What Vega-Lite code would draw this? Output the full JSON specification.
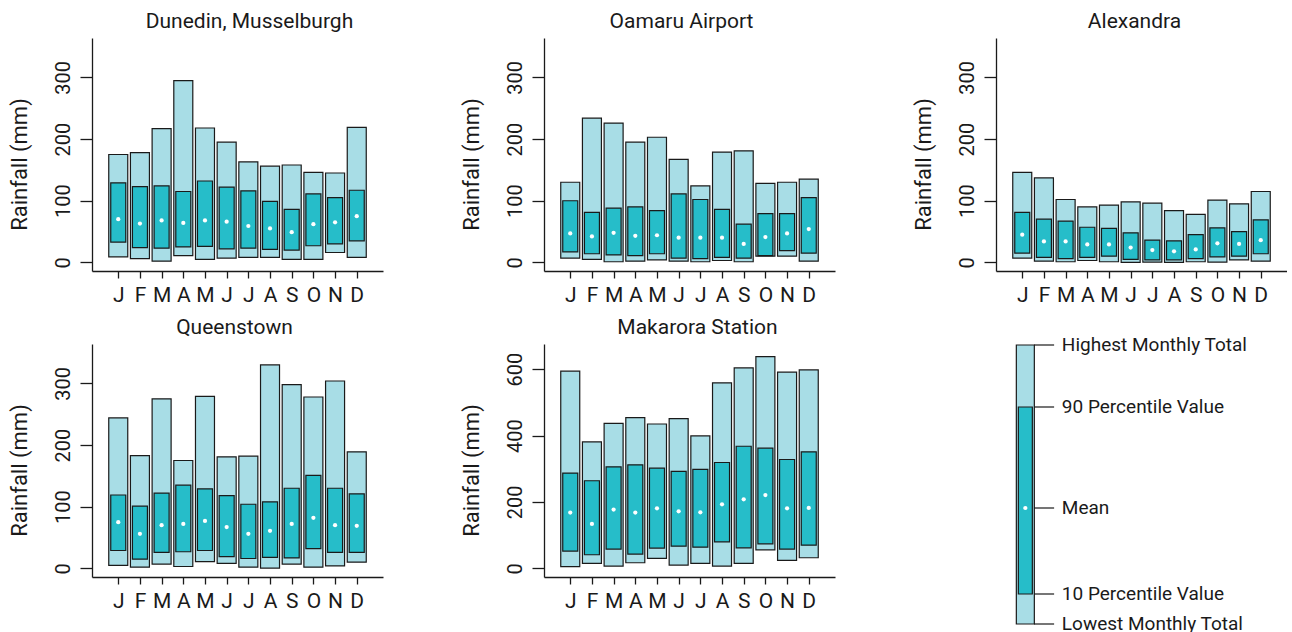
{
 "$schema": "https://vega.github.io/schema/vega-lite/v6.json",
 "background": "white",
 "padding": {"left": 7, "top": 11, "right": 0, "bottom": 0},
 "config": {
  "view": {"stroke": null},
  "font": "Roboto",
  "title": {"fontSize": 21, "fontWeight": "normal", "color": "#1a1a1a", "font": "Roboto"},
  "axis": {"domainColor": "#1a1a1a", "tickColor": "#1a1a1a", "labelColor": "#1a1a1a", "titleColor": "#1a1a1a", "grid": false, "labelFont": "Roboto", "titleFont": "Roboto", "titleFontWeight": "normal", "domainWidth": 1.3, "tickWidth": 1.3, "labelOverlap": false, "labelFlush": false}
 },
 "datasets": {
  "rain": [
   {"station": "Dunedin", "m": 1, "min": 9, "p10": 33, "mean": 70, "p90": 129, "max": 175},
   {"station": "Dunedin", "m": 2, "min": 6, "p10": 24, "mean": 63, "p90": 123, "max": 178},
   {"station": "Dunedin", "m": 3, "min": 2, "p10": 23, "mean": 68, "p90": 124, "max": 217},
   {"station": "Dunedin", "m": 4, "min": 11, "p10": 25, "mean": 64, "p90": 115, "max": 295},
   {"station": "Dunedin", "m": 5, "min": 5, "p10": 26, "mean": 68, "p90": 132, "max": 218},
   {"station": "Dunedin", "m": 6, "min": 7, "p10": 22, "mean": 66, "p90": 122, "max": 195},
   {"station": "Dunedin", "m": 7, "min": 8, "p10": 23, "mean": 59, "p90": 116, "max": 163},
   {"station": "Dunedin", "m": 8, "min": 8, "p10": 21, "mean": 55, "p90": 99, "max": 156},
   {"station": "Dunedin", "m": 9, "min": 5, "p10": 20, "mean": 49, "p90": 86, "max": 158},
   {"station": "Dunedin", "m": 10, "min": 5, "p10": 27, "mean": 62, "p90": 111, "max": 146},
   {"station": "Dunedin", "m": 11, "min": 16, "p10": 30, "mean": 65, "p90": 105, "max": 145},
   {"station": "Dunedin", "m": 12, "min": 8, "p10": 35, "mean": 75, "p90": 117, "max": 219},
   {"station": "Oamaru", "m": 1, "min": 7, "p10": 17, "mean": 47, "p90": 100, "max": 130},
   {"station": "Oamaru", "m": 2, "min": 5, "p10": 14, "mean": 42, "p90": 81, "max": 234},
   {"station": "Oamaru", "m": 3, "min": 1, "p10": 12, "mean": 48, "p90": 88, "max": 226},
   {"station": "Oamaru", "m": 4, "min": 2, "p10": 11, "mean": 43, "p90": 90, "max": 195},
   {"station": "Oamaru", "m": 5, "min": 4, "p10": 14, "mean": 44, "p90": 84, "max": 203},
   {"station": "Oamaru", "m": 6, "min": 2, "p10": 7, "mean": 40, "p90": 111, "max": 167},
   {"station": "Oamaru", "m": 7, "min": 1, "p10": 6, "mean": 40, "p90": 102, "max": 124},
   {"station": "Oamaru", "m": 8, "min": 3, "p10": 8, "mean": 40, "p90": 86, "max": 179},
   {"station": "Oamaru", "m": 9, "min": 1, "p10": 7, "mean": 30, "p90": 62, "max": 181},
   {"station": "Oamaru", "m": 10, "min": 10, "p10": 11, "mean": 41, "p90": 79, "max": 128},
   {"station": "Oamaru", "m": 11, "min": 10, "p10": 19, "mean": 47, "p90": 79, "max": 130},
   {"station": "Oamaru", "m": 12, "min": 2, "p10": 15, "mean": 54, "p90": 105, "max": 135},
   {"station": "Alexandra", "m": 1, "min": 7, "p10": 15, "mean": 45, "p90": 81, "max": 146},
   {"station": "Alexandra", "m": 2, "min": 2, "p10": 8, "mean": 34, "p90": 70, "max": 137},
   {"station": "Alexandra", "m": 3, "min": 1, "p10": 6, "mean": 34, "p90": 67, "max": 102},
   {"station": "Alexandra", "m": 4, "min": 3, "p10": 8, "mean": 29, "p90": 57, "max": 90},
   {"station": "Alexandra", "m": 5, "min": 1, "p10": 10, "mean": 29, "p90": 55, "max": 93},
   {"station": "Alexandra", "m": 6, "min": 0, "p10": 5, "mean": 24, "p90": 48, "max": 98},
   {"station": "Alexandra", "m": 7, "min": 0.5, "p10": 4, "mean": 20, "p90": 36, "max": 96},
   {"station": "Alexandra", "m": 8, "min": 0, "p10": 4, "mean": 18, "p90": 35, "max": 84},
   {"station": "Alexandra", "m": 9, "min": 1, "p10": 6, "mean": 21, "p90": 45, "max": 78},
   {"station": "Alexandra", "m": 10, "min": 0.5, "p10": 9, "mean": 31, "p90": 56, "max": 101},
   {"station": "Alexandra", "m": 11, "min": 4, "p10": 10, "mean": 30, "p90": 50, "max": 95},
   {"station": "Alexandra", "m": 12, "min": 2, "p10": 14, "mean": 36, "p90": 69, "max": 115},
   {"station": "Queenstown", "m": 1, "min": 5, "p10": 29, "mean": 75, "p90": 119, "max": 244},
   {"station": "Queenstown", "m": 2, "min": 2, "p10": 15, "mean": 56, "p90": 101, "max": 183},
   {"station": "Queenstown", "m": 3, "min": 7, "p10": 26, "mean": 70, "p90": 122, "max": 275},
   {"station": "Queenstown", "m": 4, "min": 3, "p10": 27, "mean": 72, "p90": 135, "max": 175},
   {"station": "Queenstown", "m": 5, "min": 11, "p10": 29, "mean": 77, "p90": 129, "max": 279},
   {"station": "Queenstown", "m": 6, "min": 8, "p10": 19, "mean": 67, "p90": 118, "max": 181},
   {"station": "Queenstown", "m": 7, "min": 2, "p10": 16, "mean": 56, "p90": 104, "max": 182},
   {"station": "Queenstown", "m": 8, "min": 0.5, "p10": 18, "mean": 61, "p90": 108, "max": 330},
   {"station": "Queenstown", "m": 9, "min": 7, "p10": 17, "mean": 72, "p90": 130, "max": 298},
   {"station": "Queenstown", "m": 10, "min": 2, "p10": 32, "mean": 82, "p90": 151, "max": 278},
   {"station": "Queenstown", "m": 11, "min": 4, "p10": 26, "mean": 70, "p90": 130, "max": 304},
   {"station": "Queenstown", "m": 12, "min": 10, "p10": 26, "mean": 69, "p90": 121, "max": 189},
   {"station": "Makarora", "m": 1, "min": 5, "p10": 52, "mean": 168, "p90": 287, "max": 594},
   {"station": "Makarora", "m": 2, "min": 15, "p10": 41, "mean": 134, "p90": 264, "max": 381},
   {"station": "Makarora", "m": 3, "min": 7, "p10": 58, "mean": 177, "p90": 306, "max": 437},
   {"station": "Makarora", "m": 4, "min": 17, "p10": 43, "mean": 168, "p90": 312, "max": 454},
   {"station": "Makarora", "m": 5, "min": 30, "p10": 61, "mean": 181, "p90": 302, "max": 435},
   {"station": "Makarora", "m": 6, "min": 10, "p10": 67, "mean": 172, "p90": 292, "max": 451},
   {"station": "Makarora", "m": 7, "min": 15, "p10": 64, "mean": 169, "p90": 298, "max": 399},
   {"station": "Makarora", "m": 8, "min": 7, "p10": 80, "mean": 193, "p90": 319, "max": 559},
   {"station": "Makarora", "m": 9, "min": 15, "p10": 62, "mean": 208, "p90": 368, "max": 604},
   {"station": "Makarora", "m": 10, "min": 56, "p10": 74, "mean": 221, "p90": 362, "max": 638},
   {"station": "Makarora", "m": 11, "min": 24, "p10": 58, "mean": 181, "p90": 328, "max": 591},
   {"station": "Makarora", "m": 12, "min": 32, "p10": 70, "mean": 182, "p90": 351, "max": 598}
  ],
  "legendbox": [{"lo": 1, "p10": 31, "mean": 117, "p90": 218, "hi": 280}],
  "legend": [
   {"label": "Highest Monthly Total", "v": 280},
   {"label": "90 Percentile Value", "v": 218},
   {"label": "Mean", "v": 117},
   {"label": "10 Percentile Value", "v": 31},
   {"label": "Lowest Monthly Total", "v": 1}
  ]
 },
 "columns": 3,
 "spacing": {"row": 25, "column": 161},
 "bounds": "flush",
 "align": "all",
 "concat": [
  {
   "width": 291, "height": 233,
   "title": {"text": "Dunedin, Musselburgh", "dx": 12, "frame": "group", "anchor": "middle", "offset": -11, "baseline": "alphabetic"},
   "data": {"name": "rain"},
   "transform": [{"filter": "datum.station === 'Dunedin'"}],
   "encoding": {"x": {"field": "m", "type": "quantitative", "scale": {"domain": [0.02, 12.98], "nice": false, "zero": false}, "axis": {"title": null, "values": [1,2,3,4,5,6,7,8,9,10,11,12], "labelExpr": "['J','F','M','A','M','J','J','A','S','O','N','D'][datum.value - 1]", "tickSize": 7, "labelPadding": 6, "labelFontSize": 21, "labelAngle": 0}}},
   "layer": [
    {"mark": {"type": "bar", "size": 19, "fill": "#a8dde6", "stroke": "#1a1a1a", "strokeWidth": 1.2}, "encoding": {"y": {"field": "min", "type": "quantitative", "scale": {"domain": [-14, 364], "nice": false, "zero": false}, "axis": {"title": "Rainfall (mm)", "values": [0,50,100,150,200,250,300], "labelExpr": "datum.value % 100 === 0 ? datum.label : ''", "labelAngle": -90, "labelAlign": "center", "labelBaseline": "alphabetic", "labelPadding": 11, "tickSize": 12, "labelFontSize": 20, "titleFontSize": 22, "titleX": -66, "titleY": 126, "titleAngle": -90, "titleBaseline": "alphabetic", "titleAlign": "center"}}, "y2": {"field": "max"}}},
    {"mark": {"type": "bar", "size": 15, "fill": "#26bdc9", "stroke": "#1a1a1a", "strokeWidth": 1.2}, "encoding": {"y": {"field": "p10", "type": "quantitative"}, "y2": {"field": "p90"}}},
    {"mark": {"type": "circle", "color": "white", "size": 18, "opacity": 1}, "encoding": {"y": {"field": "mean", "type": "quantitative"}}}
   ]
  },
  {
   "width": 291, "height": 233,
   "title": {"text": "Oamaru Airport", "dx": -8, "frame": "group", "anchor": "middle", "offset": -11, "baseline": "alphabetic"},
   "data": {"name": "rain"},
   "transform": [{"filter": "datum.station === 'Oamaru'"}],
   "encoding": {"x": {"field": "m", "type": "quantitative", "scale": {"domain": [0.02, 12.98], "nice": false, "zero": false}, "axis": {"title": null, "values": [1,2,3,4,5,6,7,8,9,10,11,12], "labelExpr": "['J','F','M','A','M','J','J','A','S','O','N','D'][datum.value - 1]", "tickSize": 7, "labelPadding": 6, "labelFontSize": 21, "labelAngle": 0}}},
   "layer": [
    {"mark": {"type": "bar", "size": 19, "fill": "#a8dde6", "stroke": "#1a1a1a", "strokeWidth": 1.2}, "encoding": {"y": {"field": "min", "type": "quantitative", "scale": {"domain": [-14, 364], "nice": false, "zero": false}, "axis": {"title": "Rainfall (mm)", "values": [0,50,100,150,200,250,300], "labelExpr": "datum.value % 100 === 0 ? datum.label : ''", "labelAngle": -90, "labelAlign": "center", "labelBaseline": "alphabetic", "labelPadding": 11, "tickSize": 12, "labelFontSize": 20, "titleFontSize": 22, "titleX": -66, "titleY": 126, "titleAngle": -90, "titleBaseline": "alphabetic", "titleAlign": "center"}}, "y2": {"field": "max"}}},
    {"mark": {"type": "bar", "size": 15, "fill": "#26bdc9", "stroke": "#1a1a1a", "strokeWidth": 1.2}, "encoding": {"y": {"field": "p10", "type": "quantitative"}, "y2": {"field": "p90"}}},
    {"mark": {"type": "circle", "color": "white", "size": 18, "opacity": 1}, "encoding": {"y": {"field": "mean", "type": "quantitative"}}}
   ]
  },
  {
   "width": 291, "height": 233,
   "title": {"text": "Alexandra", "dx": -7, "frame": "group", "anchor": "middle", "offset": -11, "baseline": "alphabetic"},
   "data": {"name": "rain"},
   "transform": [{"filter": "datum.station === 'Alexandra'"}],
   "encoding": {"x": {"field": "m", "type": "quantitative", "scale": {"domain": [0.02, 12.98], "nice": false, "zero": false}, "axis": {"title": null, "values": [1,2,3,4,5,6,7,8,9,10,11,12], "labelExpr": "['J','F','M','A','M','J','J','A','S','O','N','D'][datum.value - 1]", "tickSize": 7, "labelPadding": 6, "labelFontSize": 21, "labelAngle": 0}}},
   "layer": [
    {"mark": {"type": "bar", "size": 19, "fill": "#a8dde6", "stroke": "#1a1a1a", "strokeWidth": 1.2}, "encoding": {"y": {"field": "min", "type": "quantitative", "scale": {"domain": [-14, 364], "nice": false, "zero": false}, "axis": {"title": "Rainfall (mm)", "values": [0,50,100,150,200,250,300], "labelExpr": "datum.value % 100 === 0 ? datum.label : ''", "labelAngle": -90, "labelAlign": "center", "labelBaseline": "alphabetic", "labelPadding": 11, "tickSize": 12, "labelFontSize": 20, "titleFontSize": 22, "titleX": -66, "titleY": 126, "titleAngle": -90, "titleBaseline": "alphabetic", "titleAlign": "center"}}, "y2": {"field": "max"}}},
    {"mark": {"type": "bar", "size": 15, "fill": "#26bdc9", "stroke": "#1a1a1a", "strokeWidth": 1.2}, "encoding": {"y": {"field": "p10", "type": "quantitative"}, "y2": {"field": "p90"}}},
    {"mark": {"type": "circle", "color": "white", "size": 18, "opacity": 1}, "encoding": {"y": {"field": "mean", "type": "quantitative"}}}
   ]
  },
  {
   "width": 291, "height": 233,
   "title": {"text": "Queenstown", "dx": -3, "frame": "group", "anchor": "middle", "offset": -11, "baseline": "alphabetic"},
   "data": {"name": "rain"},
   "transform": [{"filter": "datum.station === 'Queenstown'"}],
   "encoding": {"x": {"field": "m", "type": "quantitative", "scale": {"domain": [0.02, 12.98], "nice": false, "zero": false}, "axis": {"title": null, "values": [1,2,3,4,5,6,7,8,9,10,11,12], "labelExpr": "['J','F','M','A','M','J','J','A','S','O','N','D'][datum.value - 1]", "tickSize": 7, "labelPadding": 6, "labelFontSize": 21, "labelAngle": 0}}},
   "layer": [
    {"mark": {"type": "bar", "size": 19, "fill": "#a8dde6", "stroke": "#1a1a1a", "strokeWidth": 1.2}, "encoding": {"y": {"field": "min", "type": "quantitative", "scale": {"domain": [-14, 364], "nice": false, "zero": false}, "axis": {"title": "Rainfall (mm)", "values": [0,50,100,150,200,250,300], "labelExpr": "datum.value % 100 === 0 ? datum.label : ''", "labelAngle": -90, "labelAlign": "center", "labelBaseline": "alphabetic", "labelPadding": 11, "tickSize": 12, "labelFontSize": 20, "titleFontSize": 22, "titleX": -66, "titleY": 126, "titleAngle": -90, "titleBaseline": "alphabetic", "titleAlign": "center"}}, "y2": {"field": "max"}}},
    {"mark": {"type": "bar", "size": 15, "fill": "#26bdc9", "stroke": "#1a1a1a", "strokeWidth": 1.2}, "encoding": {"y": {"field": "p10", "type": "quantitative"}, "y2": {"field": "p90"}}},
    {"mark": {"type": "circle", "color": "white", "size": 18, "opacity": 1}, "encoding": {"y": {"field": "mean", "type": "quantitative"}}}
   ]
  },
  {
   "width": 291, "height": 233,
   "title": {"text": "Makarora Station", "dx": 8, "frame": "group", "anchor": "middle", "offset": -11, "baseline": "alphabetic"},
   "data": {"name": "rain"},
   "transform": [{"filter": "datum.station === 'Makarora'"}],
   "encoding": {"x": {"field": "m", "type": "quantitative", "scale": {"domain": [0.02, 12.98], "nice": false, "zero": false}, "axis": {"title": null, "values": [1,2,3,4,5,6,7,8,9,10,11,12], "labelExpr": "['J','F','M','A','M','J','J','A','S','O','N','D'][datum.value - 1]", "tickSize": 7, "labelPadding": 6, "labelFontSize": 21, "labelAngle": 0}}},
   "layer": [
    {"mark": {"type": "bar", "size": 19, "fill": "#a8dde6", "stroke": "#1a1a1a", "strokeWidth": 1.2}, "encoding": {"y": {"field": "min", "type": "quantitative", "scale": {"domain": [-26, 676], "nice": false, "zero": false}, "axis": {"title": "Rainfall (mm)", "values": [0,100,200,300,400,500,600], "labelExpr": "datum.value % 200 === 0 ? datum.label : ''", "labelAngle": -90, "labelAlign": "center", "labelBaseline": "alphabetic", "labelPadding": 11, "tickSize": 12, "labelFontSize": 20, "titleFontSize": 22, "titleX": -66, "titleY": 126, "titleAngle": -90, "titleBaseline": "alphabetic", "titleAlign": "center"}}, "y2": {"field": "max"}}},
    {"mark": {"type": "bar", "size": 15, "fill": "#26bdc9", "stroke": "#1a1a1a", "strokeWidth": 1.2}, "encoding": {"y": {"field": "p10", "type": "quantitative"}, "y2": {"field": "p90"}}},
    {"mark": {"type": "circle", "color": "white", "size": 18, "opacity": 1}, "encoding": {"y": {"field": "mean", "type": "quantitative"}}}
   ]
  },
  {
   "width": 291, "height": 281,
   "layer": [
    {"data": {"name": "legendbox"}, "mark": {"type": "bar", "size": 18, "fill": "#a8dde6", "stroke": "#1a1a1a", "strokeWidth": 1.2}, "encoding": {"x": {"datum": 25.2, "type": "quantitative", "scale": {"domain": [0, 291], "nice": false, "zero": false}, "axis": null}, "y": {"field": "lo", "type": "quantitative", "scale": {"domain": [0, 281], "nice": false, "zero": false}, "axis": null}, "y2": {"field": "hi"}}},
    {"data": {"name": "legendbox"}, "mark": {"type": "bar", "size": 14, "fill": "#26bdc9", "stroke": "#1a1a1a", "strokeWidth": 1.2}, "encoding": {"x": {"datum": 25.2, "type": "quantitative"}, "y": {"field": "p10", "type": "quantitative"}, "y2": {"field": "p90"}}},
    {"data": {"name": "legendbox"}, "mark": {"type": "circle", "color": "white", "size": 18, "opacity": 1}, "encoding": {"x": {"datum": 25.2, "type": "quantitative"}, "y": {"field": "mean", "type": "quantitative"}}},
    {"data": {"name": "legend"}, "mark": {"type": "rule", "stroke": "#1a1a1a", "strokeWidth": 1.2}, "encoding": {"x": {"datum": 34.3, "type": "quantitative"}, "x2": {"datum": 55}, "y": {"field": "v", "type": "quantitative"}}},
    {"data": {"name": "legend"}, "mark": {"type": "text", "align": "left", "baseline": "middle", "fontSize": 19, "font": "Roboto", "color": "#1a1a1a"}, "encoding": {"x": {"datum": 63, "type": "quantitative"}, "y": {"field": "v", "type": "quantitative"}, "text": {"field": "label"}}}
   ]
  }
 ]
}
